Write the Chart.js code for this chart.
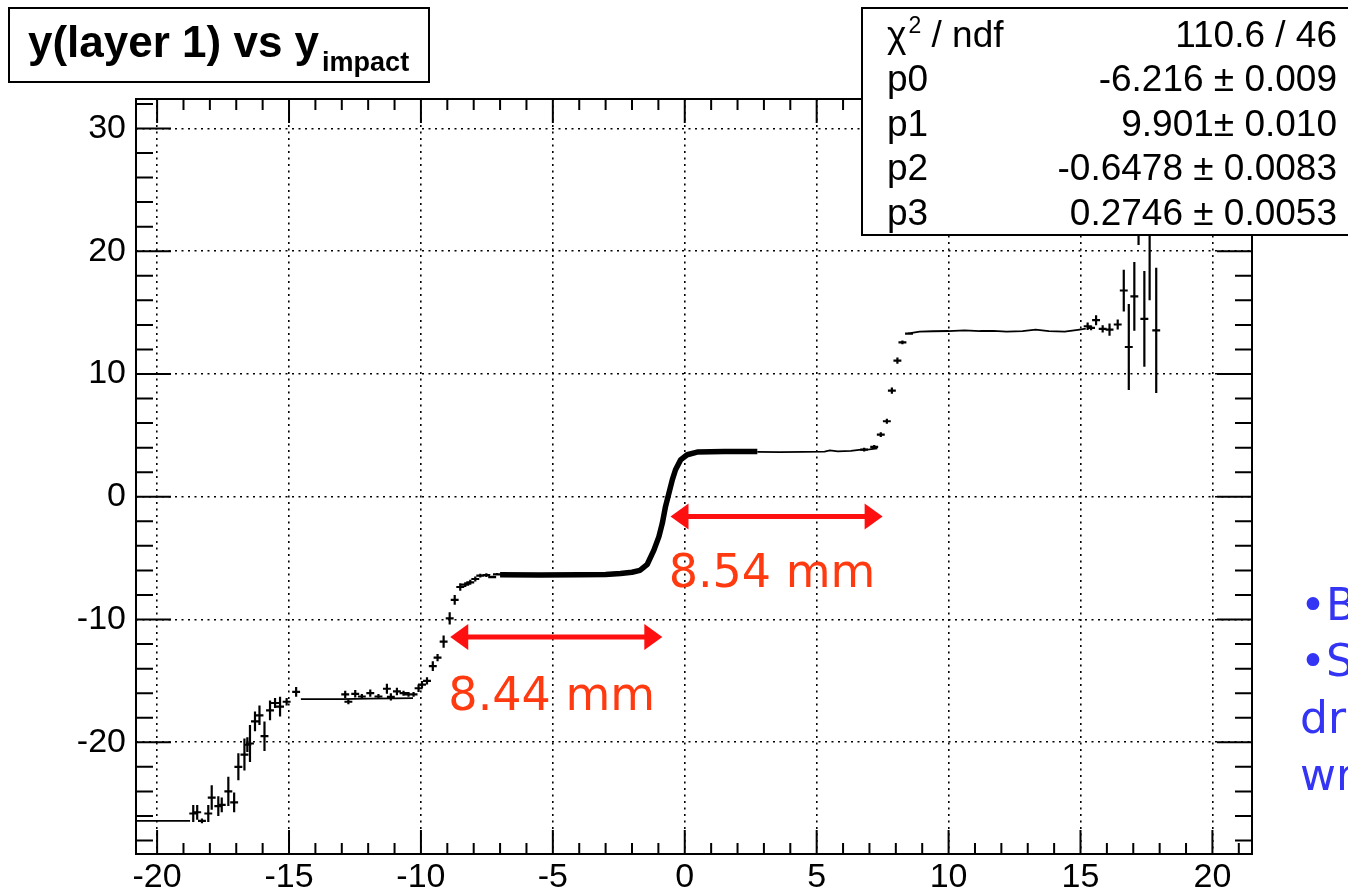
<!DOCTYPE html>
<html><head><meta charset="utf-8">
<script src="https://cdn.jsdelivr.net/npm/chart.js@4.4.1/dist/chart.umd.min.js"></script>
<style>html,body{margin:0;padding:0;background:#fff;overflow:hidden}canvas{display:block}</style>
</head><body>
<canvas id="c" width="1348" height="895"></canvas>
<script>
// ---------- data ----------
const xTickValues = [-20, -15, -10, -5, 0, 5, 10, 15, 20];
const yTickValues = [-20, -10, 0, 10, 20, 30];
const xRange = [-20.8, 21.5];
const yRange = [-29.1, 32.4];

// profile bins (centre, mean, error)
const profX = [-18.63,-18.48,-18.30,-18.06,-17.93,-17.68,-17.55,-17.30,-17.08,-16.92,-16.69,-16.58,-16.48,-16.29,-16.12,-15.93,-15.72,-15.53,-15.34,-15.09,-14.73,
  -12.87,-12.75,-12.49,-12.24,-11.92,-11.61,-11.29,-11.14,-10.91,-10.66,-10.47,-10.28,-10.09,-9.96,-9.77,-9.55,-9.37,-9.14,-8.91,-8.72,-8.51,-8.32,-8.13,-7.94,-7.75,-7.52,-7.30,-7.12,
  6.80,7.18,7.43,7.66,7.85,8.06,8.25,8.50,
  15.27,15.40,15.59,15.84,16.10,16.41,16.64,16.83,17.04,17.20,17.42,17.62,17.87];
const profY = [-25.8,-25.7,-26.4,-25.8,-24.5,-25.2,-25.1,-24.0,-24.9,-22.0,-21.0,-20.2,-20.1,-18.3,-17.8,-19.5,-17.4,-16.8,-17.1,-16.7,-15.9,
  -16.1,-16.7,-16.05,-16.27,-16.0,-16.27,-15.64,-16.3,-15.86,-16.0,-16.1,-16.1,-15.6,-15.3,-15.0,-13.8,-13.1,-11.8,-9.9,-8.4,-7.35,-7.16,-6.97,-6.7,-6.43,-6.38,-6.54,-6.32,
  3.84,4.06,5.06,6.15,8.65,11.09,12.58,13.29,
  13.89,13.76,14.38,13.67,13.62,14.03,16.8,12.2,16.33,27.0,14.49,22.0,13.56];
const profErr = [0.7,0.6,0.2,0.7,1.0,0.8,0.6,1.2,0.8,1.1,1.3,0.6,1.5,0.8,0.8,1.2,0.8,0.4,0.8,0.3,0.4,
  0.3,0.2,0.3,0.2,0.3,0.2,0.4,0.3,0.3,0.2,0.2,0.2,0.3,0.3,0.3,0.4,0.3,0.5,0.5,0.4,0.3,0.2,0.2,0.2,0.15,0.15,0.1,0.1,
  0.15,0.15,0.2,0.2,0.25,0.25,0.15,0.1,
  0.3,0.2,0.4,0.3,0.5,0.4,1.7,3.5,2.8,6.5,3.9,6.0,5.1];
const binHalfWidth = 0.15;

// densely populated bins (drawn as a thick trace)
const denseX = [-7.00,-5.50,-4.00,-3.00,-2.44,-2.00,-1.70,-1.42,-1.17,-0.98,-0.85,-0.73,-0.60,-0.47,-0.35,-0.16,0.09,0.47,1.50,2.75];
const denseY = [-6.36,-6.37,-6.36,-6.34,-6.25,-6.15,-6.00,-5.50,-4.35,-3.25,-2.15,-0.80,0.30,1.40,2.20,3.00,3.42,3.64,3.68,3.68];

// thin plateau segments (null = gap)
const thinX = [-20.8,-18.75,-18.7,-14.55,-13.0,-12.0,-11.0,-10.3,-10.2,2.75,3.6,4.5,5.3,5.5,5.8,6.3,6.6,7.0,7.3,7.4,8.55,8.9,9.4,10.0,10.6,11.2,11.7,12.2,12.8,13.3,13.8,14.4,14.9,15.2];
const thinY = [-26.4,-26.4,null,-16.48,-16.48,-16.45,-16.42,-16.4,null,3.66,3.64,3.66,3.68,3.78,3.70,3.74,3.82,3.86,3.95,null,13.33,13.45,13.48,13.50,13.55,13.50,13.52,13.45,13.50,13.62,13.50,13.45,13.60,13.70];

const titleMain = "y(layer 1) vs y";
const titleSub = "impact";
const statLabels = ["χ² / ndf", "p0", "p1", "p2", "p3"];
const statValues = ["110.6 / 46", "-6.216 ± 0.009", "9.901± 0.010", "-0.6478 ± 0.0083", "0.2746 ± 0.0053"];
const arrowLabels = ["8.44 mm", "8.54 mm"];
const arrowFromX = [-8.89, -0.54];
const arrowToX = [-0.85, 7.50];
const arrowAtY = [-11.43, -1.60];
const arrowLabelX = [-8.96, -0.61];
const arrowLabelY = [-17.35, -7.33];
const sideText = ["•B", "•S", "dr", "wr"];

// ---------- chart ----------
const FONT = "'Liberation Sans', Arial, Helvetica, sans-serif";
const profData = profX.map((x, i) => ({x, y: profY[i], e: profErr[i]}));
const denseData = denseX.map((x, i) => ({x, y: denseY[i]}));
const thinData = thinX.map((x, i) => ({x, y: thinY[i]}));

const overlay = {
  id: 'overlay',
  afterDatasetsDraw(chart) {
    const {ctx, chartArea: a, scales: {x, y}} = chart;
    const line = (x1, y1, x2, y2) => { ctx.moveTo(x1, y1); ctx.lineTo(x2, y2); };
    // error bars
    ctx.save();
    ctx.beginPath(); ctx.rect(a.left, a.top, a.right - a.left, a.bottom - a.top); ctx.clip();
    ctx.strokeStyle = '#000'; ctx.lineWidth = 2.2;
    ctx.beginPath();
    chart.data.datasets[2].data.forEach(p => {
      const px = x.getPixelForValue(p.x), py = y.getPixelForValue(p.y);
      line(x.getPixelForValue(p.x - binHalfWidth), py, x.getPixelForValue(p.x + binHalfWidth), py);
      line(px, y.getPixelForValue(p.y + p.e), px, y.getPixelForValue(p.y - p.e));
    });
    ctx.stroke();
    ctx.restore();

    // frame and inward ticks
    ctx.save();
    ctx.strokeStyle = '#000'; ctx.lineWidth = 2;
    ctx.strokeRect(a.left, a.top, a.right - a.left, a.bottom - a.top);
    ctx.beginPath();
    for (let v = Math.ceil(xRange[0]); v <= xRange[1]; v++) {
      const px = x.getPixelForValue(v), L = (v % 5 === 0) ? 24 : 11;
      line(px, a.bottom, px, a.bottom - L); line(px, a.top, px, a.top + L);
    }
    for (let v = -28; v <= yRange[1]; v += 2) {
      const py = y.getPixelForValue(v), L = (v % 10 === 0) ? 35 : 17;
      line(a.left, py, a.left + L, py); line(a.right, py, a.right - L, py);
    }
    ctx.stroke();

    // red arrows
    for (let i = 0; i < arrowLabels.length; i++) {
      const x1 = x.getPixelForValue(arrowFromX[i]), x2 = x.getPixelForValue(arrowToX[i]);
      const yy = y.getPixelForValue(arrowAtY[i]);
      const hl = 18, hw = 13;
      ctx.strokeStyle = '#ff1010'; ctx.fillStyle = '#ff1010'; ctx.lineWidth = 5;
      ctx.beginPath(); ctx.moveTo(x1 + hl - 2, yy); ctx.lineTo(x2 - hl + 2, yy); ctx.stroke();
      ctx.beginPath(); ctx.moveTo(x1, yy); ctx.lineTo(x1 + hl, yy - hw); ctx.lineTo(x1 + hl, yy + hw); ctx.closePath(); ctx.fill();
      ctx.beginPath(); ctx.moveTo(x2, yy); ctx.lineTo(x2 - hl, yy - hw); ctx.lineTo(x2 - hl, yy + hw); ctx.closePath(); ctx.fill();
      ctx.fillStyle = '#ff3a10';
      ctx.font = "46px 'DejaVu Sans', Verdana, sans-serif";
      ctx.textAlign = 'left'; ctx.textBaseline = 'alphabetic';
      ctx.fillText(arrowLabels[i], x.getPixelForValue(arrowLabelX[i]), y.getPixelForValue(arrowLabelY[i]));
    }

    // title box
    ctx.fillStyle = '#fff'; ctx.strokeStyle = '#000'; ctx.lineWidth = 2;
    ctx.fillRect(9, 8, 420, 74); ctx.strokeRect(9, 8, 420, 74);
    ctx.fillStyle = '#000';
    ctx.font = "bold 44px " + FONT;
    ctx.textAlign = 'left'; ctx.textBaseline = 'alphabetic';
    ctx.fillText(titleMain, 28, 57);
    const tw = ctx.measureText(titleMain).width;
    ctx.font = "bold 27px " + FONT;
    ctx.fillText(titleSub, 28 + tw + 3, 71);

    // stats box
    ctx.fillStyle = '#fff';
    ctx.fillRect(862, 8, 500, 227); ctx.strokeRect(862, 8, 500, 227);
    ctx.fillStyle = '#000';
    const base = [47, 91, 136, 180, 225];
    for (let i = 0; i < statLabels.length; i++) {
      ctx.font = "37px " + FONT; ctx.textAlign = 'left';
      const lab = statLabels[i];
      if (lab.indexOf('²') >= 0) {
        const parts = lab.split('²');
        ctx.fillText(parts[0], 887, base[i]);
        const w = ctx.measureText(parts[0]).width;
        ctx.font = "23px " + FONT;
        ctx.fillText('2', 887 + w + 2, base[i] - 14);
        const w2 = ctx.measureText('2').width;
        ctx.font = "37px " + FONT;
        ctx.fillText(parts[1], 887 + w + w2 + 2, base[i]);
      } else {
        ctx.fillText(lab, 887, base[i]);
      }
      ctx.textAlign = 'right';
      ctx.fillText(statValues[i], 1337, base[i]);
    }

    // blue side text (cut by the page edge)
    ctx.fillStyle = '#3434f4';
    ctx.font = "44px 'DejaVu Sans', Verdana, sans-serif";
    ctx.textAlign = 'left';
    const sb = [620, 676, 733, 790];
    sideText.forEach((t, i) => ctx.fillText(t, 1300, sb[i]));
    ctx.restore();
  }
};

new Chart(document.getElementById('c'), {
  type: 'scatter',
  data: {
    datasets: [
      {data: thinData, showLine: true, spanGaps: false, borderColor: '#000', borderWidth: 1.8, pointRadius: 0},
      {data: denseData, showLine: true, borderColor: '#000', borderWidth: 5.5, borderJoinStyle: 'round', pointRadius: 0},
      {data: profData, showLine: false, pointRadius: 0}
    ]
  },
  options: {
    responsive: false,
    devicePixelRatio: 1,
    animation: false,
    events: [],
    layout: {padding: {left: 0, top: 99, right: 96, bottom: 0}},
    plugins: {legend: {display: false}, tooltip: {enabled: false}},
    scales: {
      x: {
        type: 'linear', min: xRange[0], max: xRange[1],
        afterBuildTicks: s => { s.ticks = xTickValues.map(v => ({value: v})); },
        afterFit: s => { s.height = 41; },
        ticks: {color: '#000', font: {family: FONT, size: 34}, padding: 3, maxRotation: 0, autoSkip: false,
                callback: v => String(v)},
        grid: {color: '#000', lineWidth: 1.6, drawTicks: false},
        border: {display: false, dash: [2, 4.5]}
      },
      y: {
        type: 'linear', min: yRange[0], max: yRange[1],
        afterBuildTicks: s => { s.ticks = yTickValues.map(v => ({value: v})); },
        afterFit: s => { s.width = 136; },
        ticks: {color: '#000', font: {family: FONT, size: 34}, padding: 10, autoSkip: false,
                callback: v => String(v)},
        grid: {color: '#000', lineWidth: 1.6, drawTicks: false},
        border: {display: false, dash: [2, 4.5]}
      }
    }
  },
  plugins: [overlay]
});
</script>
</body></html>
